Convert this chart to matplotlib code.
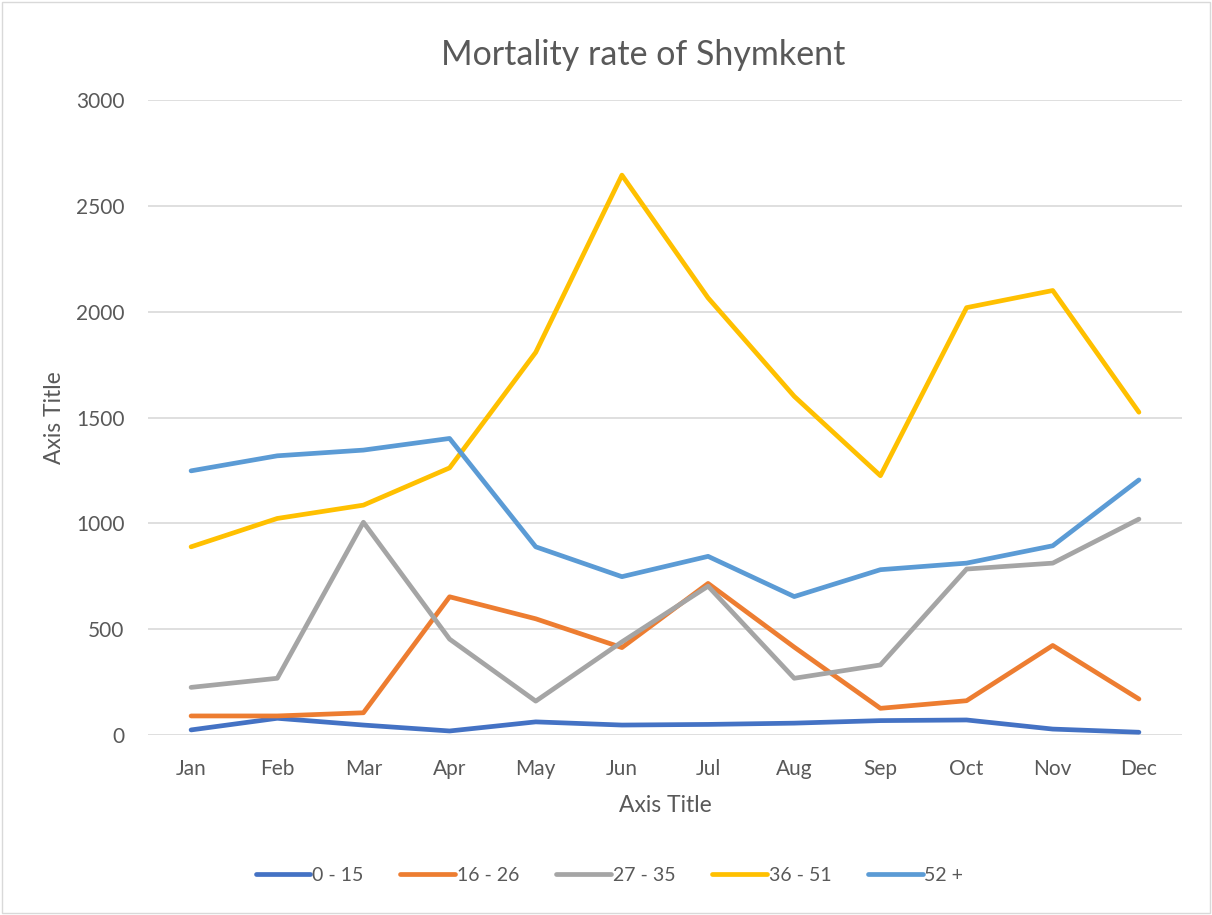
import matplotlib.pyplot as plt
from matplotlib.patches import Rectangle

plt.rcParams['font.family'] = ['Lato', 'DejaVu Sans']

# 数据
months = ['Jan', 'Feb', 'Mar', 'Apr', 'May', 'Jun', 'Jul', 'Aug', 'Sep', 'Oct', 'Nov', 'Dec']
age_0_15 = [24, 79, 47, 19, 62, 47, 50, 56, 68, 71, 28, 13]
age_16_26 = [90, 90, 105, 653, 549, 413, 716, 415, 126, 162, 423, 170]
age_27_35 = [225, 268, 1005, 453, 160, 440, 703, 268, 331, 784, 812, 1020]
age_36_51 = [889, 1023, 1086, 1262, 1808, 2645, 2065, 1600, 1225, 2019, 2100, 1525]
age_52_plus = [1248, 1319, 1346, 1401, 889, 748, 844, 654, 781, 812, 894, 1205]

series = [
    ('0 - 15', age_0_15, '#4472C4'),
    ('16 - 26', age_16_26, '#ED7D31'),
    ('27 - 35', age_27_35, '#A5A5A5'),
    ('36 - 51', age_36_51, '#FFC000'),
    ('52 +', age_52_plus, '#5B9BD5'),
]

text_color = '#595959'

fig = plt.figure(figsize=(12.12, 9.15), dpi=100)
ax = fig.add_axes([148 / 1212, 180 / 915, 1034 / 1212, 635 / 915])

x = range(len(months))
for name, vals, color in series:
    ax.plot(x, vals, color=color, lw=3.4, label=name, solid_capstyle='round', solid_joinstyle='round')

ax.set_xlim(-0.5, len(months) - 0.5)
ax.set_ylim(0, 3000)
ax.set_yticks(range(0, 3001, 500))
ax.set_xticks(list(x))
ax.set_xticklabels(months)

ax.grid(axis='y', color='#D9D9D9', lw=1.2)
ax.set_axisbelow(True)
for s in ax.spines.values():
    s.set_visible(False)
ax.tick_params(length=0, labelsize=15, labelcolor=text_color)
ax.tick_params(axis='x', pad=17)
ax.tick_params(axis='y', pad=17)

ax.set_xlabel('Axis Title', fontsize=16.5, color=text_color, labelpad=12)
ax.set_ylabel('Axis Title', fontsize=16.5, color=text_color, labelpad=8)

fig.text(0.531, 0.94, 'Mortality rate of Shymkent', ha='center', va='center', fontsize=24.5, color=text_color)

fig.legend(loc='center', bbox_to_anchor=(0.503, 0.0437), ncol=5, frameon=False,
           fontsize=14, labelcolor=text_color, handlelength=2.8, handletextpad=0.1, columnspacing=1.9)

# 外框
fig.patches.append(Rectangle((0.002, 0.002), 0.996, 0.996, transform=fig.transFigure,
                             fill=False, edgecolor='#D9D9D9', lw=1))

fig.savefig('out.png', dpi=100)
